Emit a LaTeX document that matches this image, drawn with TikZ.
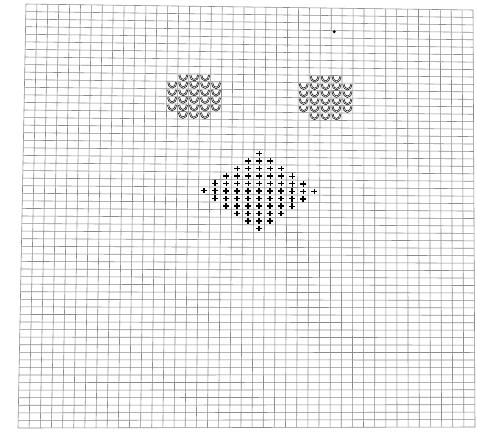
\documentclass[tikz,border=0pt]{standalone}
\usetikzlibrary{calc}

\begin{document}
\begin{tikzpicture}[x=0.03cm,y=-0.03cm,
  gridline/.style={draw=black!45,line width=0.5pt},
  cup/.style={draw=black,line width=0.55pt,double=white,double distance=0.45pt},
  cross/.style={draw=black,line width=1.25pt},
  speck/.style={fill=black}]
\useasboundingbox (0,0) rectangle (477,435);
\fill[white] (0,0) rectangle (477,435);

% --- sheet corners (scan is slightly skewed) ----------------------------
\coordinate (TL) at (26,4);
\coordinate (TR) at (473,10);
\coordinate (BL) at (18,428);
\coordinate (BR) at (475,427);

% --- grid: 41 columns, 56 rows -----------------------------------------
\foreach \i [evaluate=\i as \u using \i/41] in {0,...,41}
  \draw[gridline] ($(TL)!\u!(TR)$) -- ($(BL)!\u!(BR)$);
\foreach \j [evaluate=\j as \v using \j/56] in {0,...,56}
  \draw[gridline] ($(TL)!\v!(BL)$) -- ($(TR)!\v!(BR)$);

% --- two blocks of cups ------------------------------------------------
\foreach \dc in {0,12}
  \foreach \c/\r in {14/9,15/9,16/9,
                     13/10,14/10,15/10,16/10,17/10,
                     13/11,14/11,15/11,16/11,17/11,
                     13/12,14/12,15/12,16/12,17/12,
                     13/13,14/13,15/13,16/13,17/13,
                     14/14,15/14,16/14}
  {
    \pgfmathsetmacro\u{(\c+\dc+0.5)/41}
    \pgfmathsetmacro\v{(\r+0.5)/56}
    \coordinate (m) at ($($(TL)!\u!(TR)$)!\v!($(BL)!\u!(BR)$)$);
    \draw[cup] ($(m)+(-4.0,-2.8)$) arc[start angle=180,end angle=0,x radius=4.0,y radius=5.2];
  }

% --- diamond of crosses ------------------------------------------------
\foreach \r in {-5,...,5}
  \foreach \c in {-5,...,5}
  {
    \pgfmathtruncatemacro\dist{abs(\r)+abs(\c)}
    \ifnum\dist<6
      \pgfmathsetmacro\u{(21+\c+0.5)/41}
      \pgfmathsetmacro\v{(24+\r+0.5)/56}
      \coordinate (m) at ($($(TL)!\u!(TR)$)!\v!($(BL)!\u!(BR)$)$);
      \draw[cross] ($(m)+(-3,0)$) -- ($(m)+(3,0)$)
                   ($(m)+(0,-2.8)$) -- ($(m)+(0,2.8)$);
    \fi
  }

% --- stray mark --------------------------------------------------------
\fill[speck] (334.3,31.7) circle[radius=1.6];
\end{tikzpicture}
\end{document}
